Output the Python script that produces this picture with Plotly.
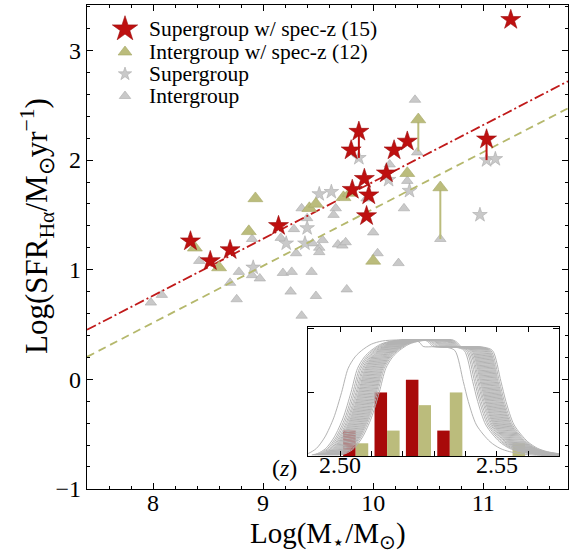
import plotly.graph_objects as go

# ---------------- data ----------------
# Supergroup galaxies with spectroscopic redshift (red stars)
sg_spec_mass = [8.34, 8.52, 8.70, 9.14, 9.80, 9.87, 9.92, 9.81, 9.96, 9.94, 10.12, 10.19, 10.31, 11.03, 11.25]
sg_spec_sfr = [1.26, 1.08, 1.18, 1.40, 2.09, 2.26, 1.83, 1.73, 1.68, 1.49, 1.88, 2.09, 2.17, 2.19, 3.28]

# Intergroup galaxies with spectroscopic redshift (olive triangles)
ig_spec_mass = [8.38, 8.60, 8.87, 8.93, 9.42, 9.48, 9.73, 9.79, 10.00, 10.31, 10.41, 10.61]
ig_spec_sfr = [1.20, 1.02, 1.35, 1.65, 1.56, 1.60, 1.66, 1.70, 1.08, 1.88, 2.37, 1.75]

# Supergroup galaxies (grey stars)
sg_mass = [8.91, 9.21, 9.38, 9.40, 9.51, 9.62, 9.87, 10.14, 10.33, 10.97, 11.03, 11.11]
sg_sfr = [1.02, 1.24, 1.24, 1.38, 1.69, 1.71, 2.02, 1.82, 1.72, 1.50, 2.00, 2.01]

# Intergroup galaxies (grey triangles)
ig_mass = [7.98, 8.08, 8.42, 8.70, 8.76, 8.78, 8.90, 8.97, 8.90, 9.16, 9.28, 9.30,
           9.18, 9.26, 9.25, 9.44, 9.48, 9.35, 9.35, 9.66, 9.54, 9.51, 9.51, 9.68,
           9.40, 9.45, 9.72, 9.75, 9.64, 10.00, 10.04, 10.23, 10.28, 10.31, 9.76,
           10.40, 10.38, 10.61, 10.15, 9.94]
ig_sfr = [0.70, 0.77, 1.08, 0.88, 0.73, 0.98, 0.95, 0.92, 1.28, 1.29, 1.37, 1.15,
          0.97, 0.98, 0.80, 0.98, 0.76, 0.58, 1.56, 1.56, 1.27, 1.20, 1.16, 1.23,
          1.47, 1.24, 1.22, 1.25, 1.50, 1.34, 1.15, 1.06, 1.56, 1.81, 0.82,
          2.07, 2.55, 1.28, 1.96, 1.65]

# Connectors between spec-z values and the corresponding grey values
red_link_mass = [9.87, 11.03]
red_link_from = [2.26, 2.19]
red_link_to = [2.02, 2.00]
olive_link_mass = [10.41, 10.61]
olive_link_from = [2.37, 1.75]
olive_link_to = [2.08, 1.28]

# Main-sequence relations (slope, intercept)
ms_slope = [0.519, 0.519]
ms_intercept = [-3.389, -3.636]   # [supergroup, intergroup]

# Inset: redshift histograms (bin left edges, counts)
z_bin_left = [2.50, 2.51, 2.52, 2.53, 2.54, 2.55]
z_counts_sg = [2, 5, 6, 2, 0, 0]
z_counts_ig = [1, 2, 4, 5, 0, 1]

# Inset: grey selection curves (shape of the first curve, then the shift of each curve)
curve_z = [2.4880, 2.4899, 2.4925, 2.4952, 2.4980, 2.5005, 2.5026, 2.5048, 2.5069,
           2.5100, 2.5135, 2.5180, 2.5240, 2.5255, 2.5265, 2.5300, 2.5340, 2.5366,
           2.5393, 2.5409, 2.5435, 2.5478, 2.5510, 2.5541, 2.5605, 2.5700, 2.5800]
curve_v = [0.08, 0.20, 0.60, 1.50, 3.00, 5.00, 6.90, 7.80, 8.30,
           8.80, 9.05, 9.13, 9.13, 8.90, 8.62, 8.60, 8.55, 8.30,
           5.85, 4.28, 2.44, 1.13, 0.60, 0.34, 0.10, 0.02, 0.00]
curve_shift = [0.0, 0.0030, 0.0036, 0.0041, 0.0046, 0.0050, 0.0054, 0.0057, 0.0060,
               0.0063, 0.0066, 0.0069, 0.0072, 0.0075, 0.0078, 0.0081, 0.0084,
               0.0087, 0.0090, 0.0093, 0.0096, 0.0099, 0.0102, 0.0105, 0.0108,
               0.0111, 0.0115, 0.0120]

# Tick labels
x_ticks = [8, 9, 10, 11]
y_ticks = [-1, 0, 1, 2, 3]
inset_tickvals = [2.50, 2.55]
inset_ticktext = ["2.50", "2.55"]

legend_labels = ["Supergroup w/ spec-z (15)", "Intergroup w/ spec-z (12)", "Supergroup", "Intergroup"]

# ---------------- styling ----------------
RED = "#BE1010"
RED_BAR = "#A80A0A"
OLIVE = "#BBBC7C"
GREY = "#C9C9C9"
GREY_EDGE = "#ABABAB"
CURVE = "#B3B3B3"
FONT = "Liberation Serif"

W, H = 570, 554
PL, PR, PT, PB = 87, 568, 5, 489


def fx(px):
    return (px - PL) / (PR - PL)


def fy(py):
    return (PB - py) / (PB - PT)


XR = [7.40, 11.77]
YR = [-1.001, 3.415]

fig = go.Figure()

# grey points
fig.add_trace(go.Scatter(x=ig_mass, y=ig_sfr, mode="markers",
                         marker=dict(symbol="triangle-up", size=10, color=GREY,
                                     line=dict(color=GREY_EDGE, width=0.6))))
fig.add_trace(go.Scatter(x=sg_mass, y=sg_sfr, mode="markers",
                         marker=dict(symbol="star", size=11, color=GREY,
                                     line=dict(color=GREY_EDGE, width=0.6))))

# main-sequence lines
for k, (dash, col) in enumerate([("10px,3px,2px,3px", "#C01A1A"), ("8px,5px", "#B5B86C")]):
    xs = XR
    ys = [ms_slope[k] * v + ms_intercept[k] for v in xs]
    fig.add_trace(go.Scatter(x=xs, y=ys, mode="lines",
                             line=dict(color=col, width=1.8, dash=dash)))

# connectors
for i in range(len(red_link_mass)):
    fig.add_trace(go.Scatter(x=[red_link_mass[i], red_link_mass[i]],
                             y=[red_link_from[i], red_link_to[i]], mode="lines",
                             line=dict(color=RED, width=2)))
for i in range(len(olive_link_mass)):
    fig.add_trace(go.Scatter(x=[olive_link_mass[i], olive_link_mass[i]],
                             y=[olive_link_from[i], olive_link_to[i]], mode="lines",
                             line=dict(color=OLIVE, width=2)))

# spec-z points
fig.add_trace(go.Scatter(x=ig_spec_mass, y=ig_spec_sfr, mode="markers",
                         marker=dict(symbol="triangle-up", size=13, color=OLIVE,
                                     line=dict(color="#A6A866", width=0.6))))
fig.add_trace(go.Scatter(x=sg_spec_mass, y=sg_spec_sfr, mode="markers",
                         marker=dict(symbol="star", size=15, color=RED,
                                     line=dict(color="#9A0A0A", width=0.6))))

# inset curves
for s in curve_shift:
    fig.add_trace(go.Scatter(x=[z + s for z in curve_z], y=curve_v, mode="lines",
                             line=dict(color=CURVE, width=1, shape="spline", smoothing=0.8),
                             xaxis="x2", yaxis="y2"))
# inset histograms
fig.add_trace(go.Bar(x=z_bin_left, y=z_counts_sg, width=0.004, offset=0.001,
                     marker=dict(color=RED_BAR, line=dict(width=0)),
                     xaxis="x2", yaxis="y2"))
fig.add_trace(go.Bar(x=z_bin_left, y=z_counts_ig, width=0.004, offset=0.005,
                     marker=dict(color=OLIVE, line=dict(width=0)),
                     xaxis="x2", yaxis="y2"))

# legend (drawn manually so marker sizes match)
leg_rows = [29, 52, 74, 96]
leg_symbols = [("star", 19, RED, "#9A0A0A"), ("triangle-up", 12, OLIVE, "#A6A866"),
               ("star", 10, GREY, GREY_EDGE), ("triangle-up", 10, GREY, GREY_EDGE)]
for row, (sym, sz, col, edge) in zip(leg_rows, leg_symbols):
    fig.add_trace(go.Scatter(x=[fx(125)], y=[fy(row)], mode="markers",
                             marker=dict(symbol=sym, size=sz, color=col,
                                         line=dict(color=edge, width=0.6)),
                             xaxis="x3", yaxis="y3"))

annotations = []
for row, lab in zip(leg_rows, legend_labels):
    annotations.append(dict(text=lab, x=fx(147), y=fy(row), xref="paper", yref="paper",
                            xanchor="left", yanchor="middle", showarrow=False,
                            font=dict(size=21.5, family=FONT, color="black")))

# axis titles
annotations.append(dict(text="Log(M<sub>⋆</sub>/M<sub>⊙</sub>)", x=fx(328), y=fy(535),
                        xref="paper", yref="paper", xanchor="center", yanchor="middle",
                        showarrow=False, font=dict(size=29, family=FONT, color="black")))
annotations.append(dict(text="Log(SFR<sub>Hα</sub>/M<sub>⊙</sub>yr<sup>−1</sup>)",
                        x=fx(37), y=fy(226), xref="paper", yref="paper",
                        xanchor="center", yanchor="middle", textangle=-90,
                        showarrow=False, font=dict(size=31, family=FONT, color="black")))
annotations.append(dict(text="(<i>z</i>)", x=fx(284), y=fy(468), xref="paper", yref="paper",
                        xanchor="center", yanchor="middle", showarrow=False,
                        font=dict(size=24, family=FONT, color="black")))

axis_common = dict(showline=True, linecolor="black", linewidth=1.3, mirror="allticks",
                   ticks="inside", ticklen=6, tickwidth=1.2, tickcolor="black",
                   showgrid=False, zeroline=False,
                   tickfont=dict(size=24, family=FONT, color="black"))
minor_common = dict(ticks="inside", ticklen=3, tickwidth=1, tickcolor="black",
                    dtick=0.2, tick0=0, showgrid=False)

fig.update_layout(
    width=W, height=H,
    margin=dict(l=PL, r=W - PR, t=PT, b=H - PB),
    paper_bgcolor="white", plot_bgcolor="white",
    showlegend=False, barmode="overlay",
    font=dict(family=FONT, color="black"),
    xaxis=dict(range=XR, tickmode="array", tickvals=x_ticks, ticklabelstandoff=-8,
               minor=minor_common, **axis_common),
    yaxis=dict(range=YR, tickmode="array", tickvals=y_ticks, ticklabelstandoff=0,
               minor=minor_common, **axis_common),
    xaxis2=dict(domain=[fx(308), fx(559)], anchor="y2", range=[2.4898, 2.5698],
                tickmode="array", tickvals=inset_tickvals, ticktext=inset_ticktext,
                ticklabelstandoff=-13,
                minor=dict(ticks="inside", ticklen=5, tickwidth=1.2, tickcolor="black",
                           dtick=0.01, tick0=2.5, showgrid=False),
                **{**axis_common, "ticklen": 5}),
    yaxis2=dict(domain=[fy(456), fy(327)], anchor="x2", range=[0, 10.15],
                tickmode="array", tickvals=[0, 5, 10], showticklabels=False,
                **axis_common),
    xaxis3=dict(overlaying="x", range=[0, 1], visible=False),
    yaxis3=dict(overlaying="y", range=[0, 1], visible=False),
    annotations=annotations,
)

fig.write_html("out.html", config={"displayModeBar": False},
               post_script="document.body.style.margin='0';")
